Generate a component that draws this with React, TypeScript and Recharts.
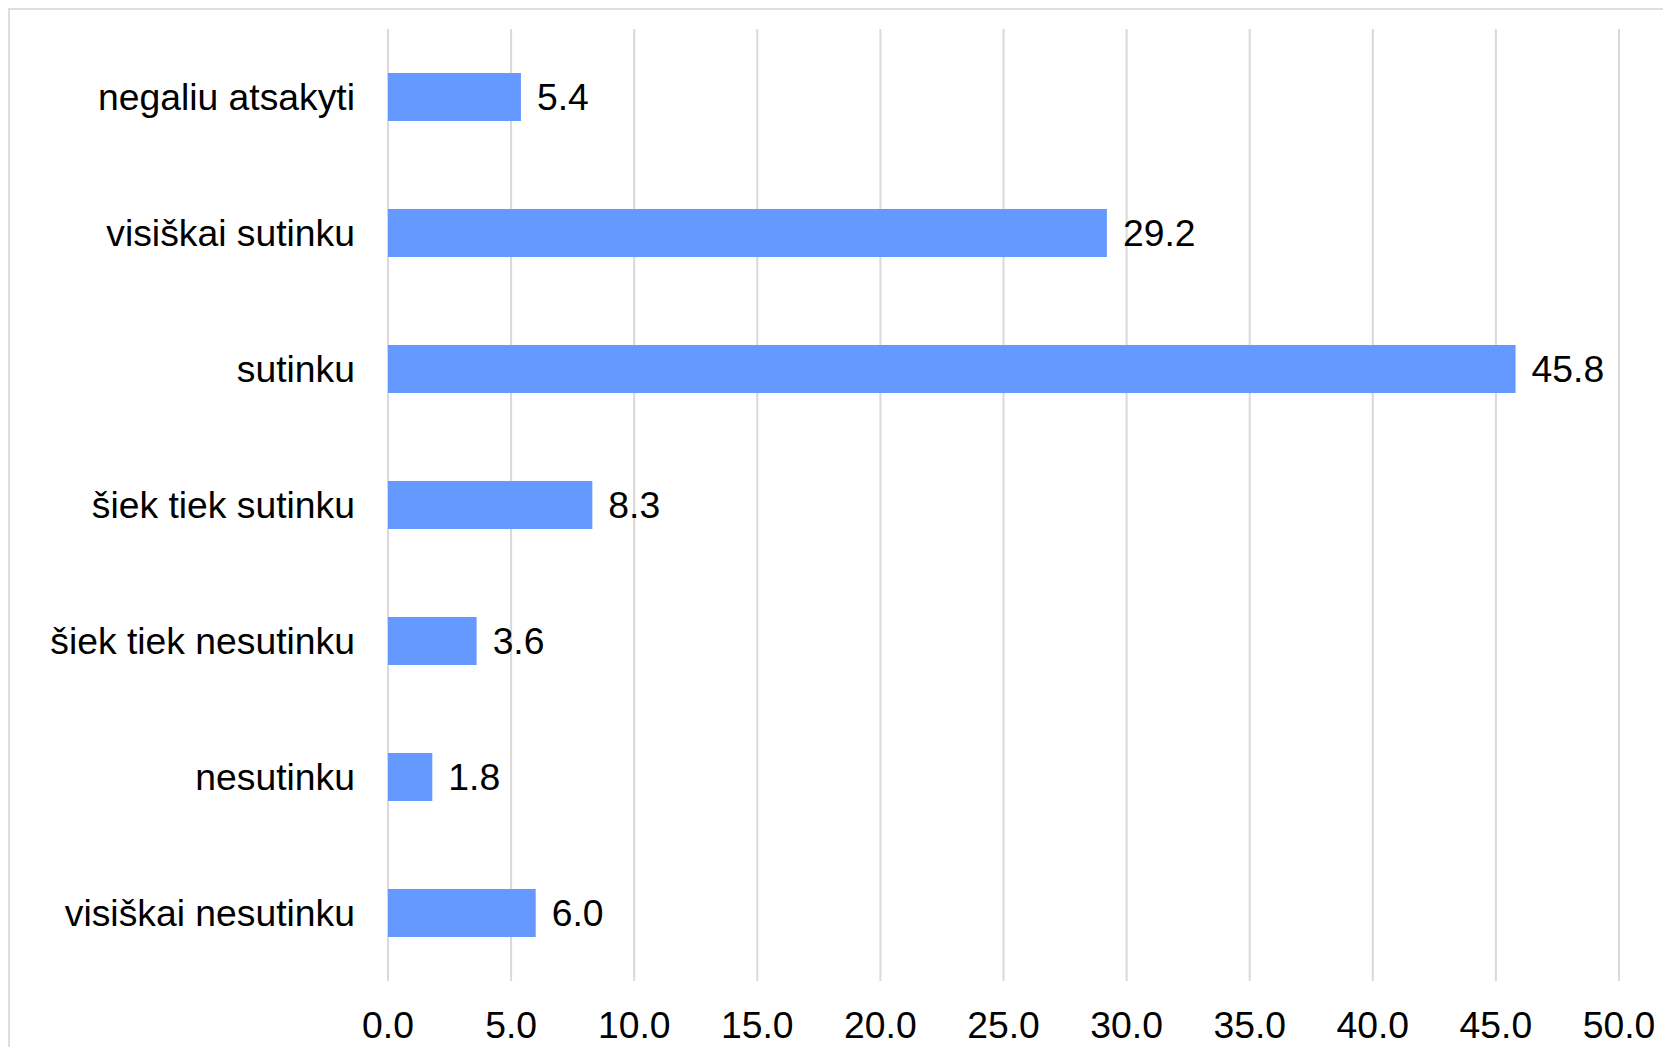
import { Bar, BarChart, CartesianGrid, LabelList, XAxis, YAxis } from "recharts";

const categories = [
  "negaliu atsakyti",
  "visiškai sutinku",
  "sutinku",
  "šiek tiek sutinku",
  "šiek tiek nesutinku",
  "nesutinku",
  "visiškai nesutinku",
];

const shares = [5.4, 29.2, 45.8, 8.3, 3.6, 1.8, 6.0];

const xTicks = [0, 5, 10, 15, 20, 25, 30, 35, 40, 45, 50];

const chartData = categories.map((name, i) => ({ name, value: shares[i] }));

const fontFamily = "'Liberation Sans', Arial, sans-serif";
const fontSize = 37.3;

export default function App() {
  return (
    <div
      style={{
        position: "fixed",
        left: 8,
        top: 8,
        width: 1700,
        height: 1100,
        borderTop: "2px solid #dedede",
        borderLeft: "2px solid #dedede",
        background: "#fff",
        fontFamily,
      }}
    >
      <BarChart
        width={1700}
        height={1100}
        data={chartData}
        layout="vertical"
        margin={{ top: 19, right: 91, left: 0, bottom: 69 }}
        barSize={48}
      >
        <CartesianGrid
          horizontal={false}
          stroke="#d9d9d9"
          strokeWidth={2}
        />
        <XAxis
          type="number"
          domain={[0, 50]}
          ticks={xTicks}
          interval={0}
          axisLine={false}
          tickLine={false}
          tickMargin={25}
          height={60}
          tick={{ fill: "#000", fontSize, fontFamily }}
          tickFormatter={(v: number) => v.toFixed(1)}
        />
        <YAxis
          type="category"
          dataKey="name"
          width={378}
          axisLine={false}
          tickLine={false}
          tickMargin={27}
          interval={0}
          tick={{ fill: "#000", fontSize, fontFamily }}
        />
        <Bar dataKey="value" fill="#6699ff" isAnimationActive={false}>
          <LabelList
            dataKey="value"
            position="right"
            offset={16}
            fill="#000"
            fontSize={fontSize}
            fontFamily={fontFamily}
            formatter={(v: number) => Number(v).toFixed(1)}
          />
        </Bar>
      </BarChart>
    </div>
  );
}
